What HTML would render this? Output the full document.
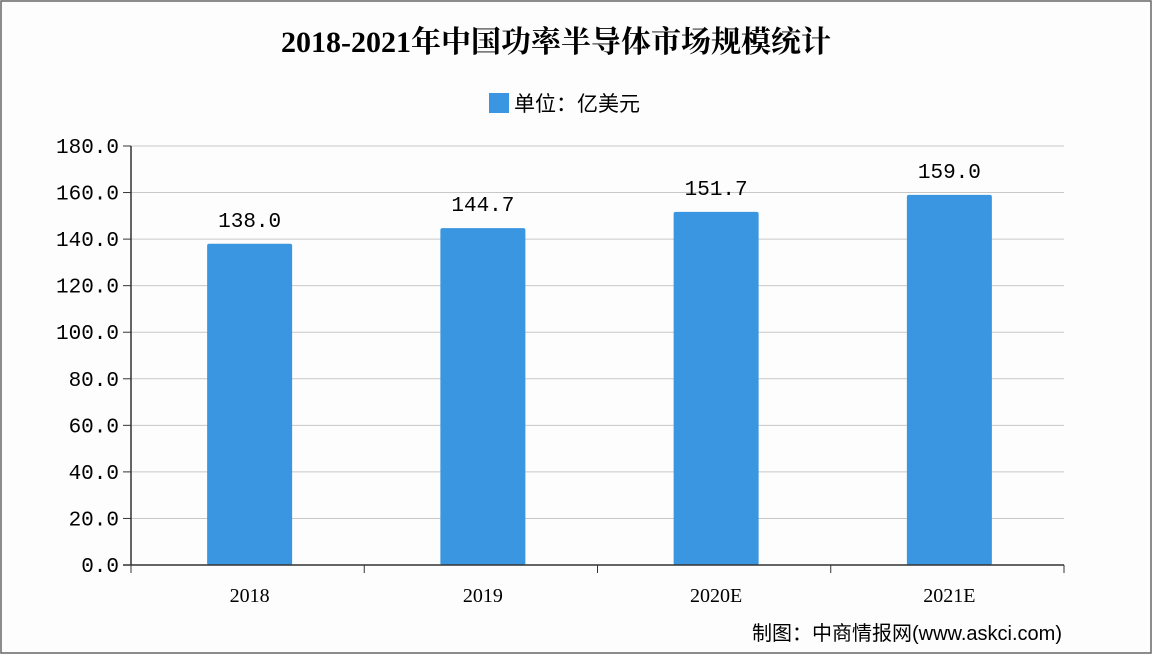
<!DOCTYPE html>
<html><head><meta charset="utf-8"><style>
body{margin:0;background:#fff;}
</style></head><body>
<svg id="c" width="1152" height="658" xmlns="http://www.w3.org/2000/svg" style="font-family:'Liberation Sans','Noto Sans CJK SC',sans-serif">
<rect x="1" y="1" width="1150" height="652" fill="#fdfdfd" stroke="#666" stroke-width="1.5"/>
<text x="556" y="52" font-size="30" font-weight="bold" text-anchor="middle" style="font-family:'Liberation Serif','Noto Serif CJK SC',serif">2018-2021年中国功率半导体市场规模统计</text>
<rect x="489" y="93" width="20" height="20" fill="#3a96e0"/>
<text x="514" y="111" font-size="21">单位：亿美元</text>
<g id="g"></g>
<text x="1062" y="640" font-size="20" text-anchor="end">制图：中商情报网(www.askci.com)</text>
</svg>
<script>
const categories=["2018","2019","2020E","2021E"];
const values=[138.0,144.7,151.7,159.0];
const yTicks=[0,20,40,60,80,100,120,140,160,180];
const X0=131,X1=1064,Y0=565,Y1=146,YMAX=180;
const band=(X1-X0)/categories.length;
const y=v=>Y0-(v/YMAX)*(Y0-Y1);
const xc=i=>X0+band*(i+0.5)+2;
const g=document.getElementById('g');
const NS="http://www.w3.org/2000/svg";
const MONO="font-family:'Liberation Mono',monospace";
function mk(t,a){const e=document.createElementNS(NS,t);for(const k in a)e.setAttribute(k,a[k]);g.appendChild(e);return e;}
yTicks.forEach(t=>{
  if(t>0){const l=mk('line',{x1:X0,x2:X1,y1:y(t),y2:y(t),stroke:'#c8c8c8','stroke-width':1});
  
  }
  const tk=mk('line',{x1:X0-8,x2:X0,y1:y(t),y2:y(t),stroke:'#333'});
  
  
  const tx=mk('text',{x:X0-12,y:y(t)+7,'font-size':21,'text-anchor':'end',style:MONO});
  tx.textContent=t.toFixed(1);
  
  
});
values.forEach((v,i)=>{
  const bw=85;
  const r=mk('rect',{x:xc(i)-bw/2,y:y(v),width:bw,height:Y0-y(v),fill:'#3a96e0',rx:2});
  
  
  const lb=mk('text',{x:xc(i),y:y(v)-17,'font-size':21,'text-anchor':'middle',style:MONO});
  lb.textContent=v.toFixed(1);
  
  
  const cl=mk('text',{x:xc(i),y:Y0+37,'font-size':20,'text-anchor':'middle',style:"font-family:'Liberation Serif',serif"});
  cl.textContent=categories[i];
  
  
});
for(let i=0;i<=categories.length;i++){
  const t=mk('line',{x1:X0+band*i,x2:X0+band*i,y1:Y0,y2:Y0+8,stroke:'#333'});
  
  
}
const ya=mk('line',{x1:X0,x2:X0,y1:Y1,y2:Y0,stroke:'#333','stroke-width':1.5});


const xa=mk('line',{x1:X0-8,x2:X1,y1:Y0,y2:Y0,stroke:'#333','stroke-width':1.5});


</script>
</body></html>
